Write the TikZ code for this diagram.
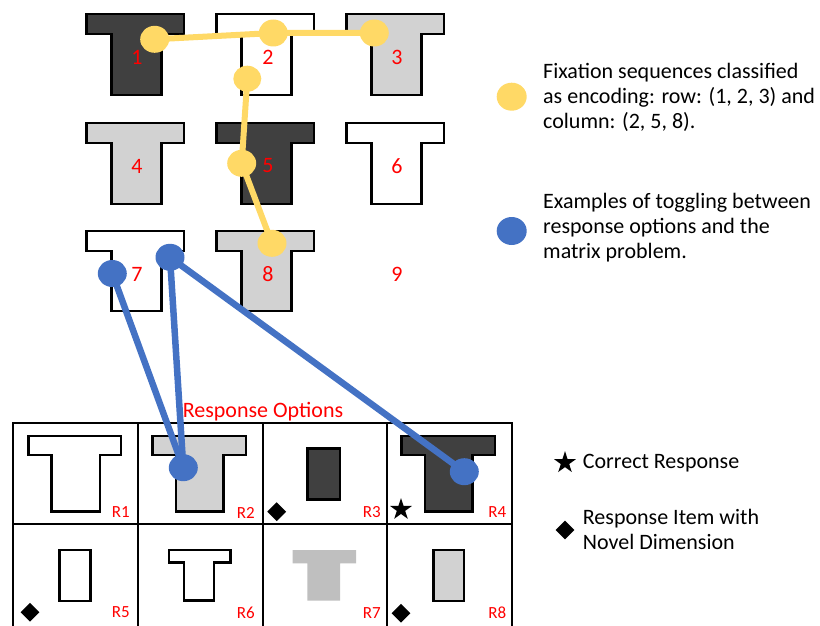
\documentclass[tikz,border=0pt]{standalone}
\usepackage{fontspec}
\setmainfont{Carlito}
\usetikzlibrary{shapes.geometric}

\definecolor{fixyellow}{HTML}{FFD966}
\definecolor{toggleblue}{HTML}{4472C4}
\definecolor{darkfill}{HTML}{404040}
\definecolor{lightfill}{HTML}{D2D2D2}
\definecolor{fadedfill}{HTML}{BFBFBF}
\definecolor{labelred}{HTML}{FF0000}

% T-shaped figure: left x, top y, width, bar height, stem offset, stem width, total height, style
\newcommand\drawtee[8]{%
  \path[#8] (#1,#2) -- ++(#3,0) -- ++(0,#4) -- (#1+#5+#6,#2+#4) -- (#1+#5+#6,#2+#7)
    -- (#1+#5,#2+#7) -- (#1+#5,#2+#4) -- (#1,#2+#4) -- cycle;}

\begin{document}
\begin{tikzpicture}[x=1pt,y=-1pt,
  figline/.style={draw=black,line width=2.6pt,line join=miter},
  cellnum/.style={text=labelred,font=\fontsize{22}{26}\selectfont,inner sep=0pt},
  optlabel/.style={text=labelred,font=\fontsize{17}{20}\selectfont,inner sep=0pt,anchor=east},
  ydot/.style={ellipse,fill=fixyellow,inner sep=0pt,minimum width=29pt,minimum height=27pt},
  bdot/.style={ellipse,fill=toggleblue,inner sep=0pt,minimum width=29pt,minimum height=27pt},
  ylink/.style={draw=fixyellow,line width=6pt},
  blink/.style={draw=toggleblue,line width=6.5pt},
  legendtext/.style={font=\fontsize{22}{25}\selectfont,align=left,anchor=west,inner sep=0pt},
  mark diamond/.style={diamond,fill=black,inner sep=0pt,minimum width=19pt,minimum height=19pt},
  mark star/.style={star,star points=5,star point ratio=2.6,fill=black,inner sep=0pt,minimum size=23pt},
  gridline/.style={draw=black,line width=2pt}]
\useasboundingbox (0,0) rectangle (820,626);

% ---- 3x3 matrix problem ----
\drawtee{86.7}{14}{97.3}{20}{25}{50}{81}{figline,fill=darkfill}
\drawtee{216.7}{14}{97.3}{20}{25}{50}{81}{figline,fill=white}
\drawtee{346.7}{14}{97.3}{20}{25}{50}{81}{figline,fill=lightfill}
\drawtee{86.7}{123}{97.3}{20}{25}{50}{81}{figline,fill=lightfill}
\drawtee{216.7}{123}{97.3}{20}{25}{50}{81}{figline,fill=darkfill}
\drawtee{346.7}{123}{97.3}{20}{25}{50}{81}{figline,fill=white}
\drawtee{86.7}{231}{97.3}{20}{25}{50}{80}{figline,fill=white}
\drawtee{216.7}{231}{97.3}{20}{25}{50}{80}{figline,fill=lightfill}

\node[cellnum] (n1) at (137,57) {1};
\node[cellnum] (n2) at (268,57) {2};
\node[cellnum] (n3) at (397,57) {3};
\node[cellnum] (n4) at (137,166) {4};
\node[cellnum] (n5) at (268,166) {5};
\node[cellnum] (n6) at (397,166) {6};
\node[cellnum] (n7) at (137,274) {7};
\node[cellnum] (n8) at (268,274) {8};
\node[cellnum] (n9) at (397,274) {9};

% ---- response options ----
\node[text=labelred,font=\fontsize{22}{26}\selectfont,inner sep=0pt] (ropt) at (263,411.5) {Response Options};
\draw[gridline] (12.7,423) -- (511.7,423);
\draw[gridline] (12.7,524.3) -- (511.7,524.3);
\draw[gridline] (12.7,626.6) -- (511.7,626.6);
\foreach \gx in {12.7,137.7,262.7,387.3,511.7} \draw[gridline] (\gx,422) -- (\gx,627);

\drawtee{28.3}{436}{92.7}{19}{23.4}{48.3}{75.7}{figline,fill=white}
\drawtee{152.7}{436}{93.3}{19}{23.3}{47.3}{75.7}{figline,fill=lightfill}
\draw[figline,fill=darkfill] (307.3,448.3) rectangle (340,499.3);
\drawtee{401.7}{436}{93.3}{19}{23.3}{47.7}{75.7}{figline,fill=darkfill}

\draw[figline,fill=white] (59.3,550) rectangle (90.7,601);
\drawtee{169}{550}{61.7}{12.3}{15}{30}{50.7}{figline,fill=white}
\drawtee{292.7}{550}{63.3}{13.3}{14.6}{32.7}{50.7}{fill=fadedfill}
\draw[figline,fill=lightfill] (433.3,550) rectangle (464,601);

\node[optlabel] (r1) at (130,512.5) {R1};
\node[optlabel] (r2) at (255,512.5) {R2};
\node[optlabel] (r3) at (381,512.5) {R3};
\node[optlabel] (r4) at (506.5,512.5) {R4};
\node[optlabel] (r5) at (130,612.5) {R5};
\node[optlabel] (r6) at (255,612.5) {R6};
\node[optlabel] (r7) at (381,613.3) {R7};
\node[optlabel] (r8) at (506.5,612.5) {R8};

\node[mark diamond] (d3) at (276.7,511.7) {};
\node[mark star] (s4) at (401,509.5) {};
\node[mark diamond] (d5) at (30,612.3) {};
\node[mark diamond] (d8) at (401,613.3) {};

% ---- encoding fixations (yellow) ----
\node[ydot] (y1) at (154.7,39.3) {};
\node[ydot] (y2) at (273.3,33) {};
\node[ydot] (y3) at (374.3,33) {};
\node[ydot,minimum width=28pt,minimum height=26pt] (y4) at (247.3,78.7) {};
\node[ydot] (y5) at (241.7,163.3) {};
\node[ydot] (y6) at (272,243.3) {};
\draw[ylink] (y1.center) -- (y2.center) -- (y3.center);
\draw[ylink] (y4.center) -- (y5.center) -- (y6.center);

% ---- toggling fixations (blue) ----
\node[bdot] (b1) at (112.3,273.5) {};
\node[bdot] (b2) at (170,257.3) {};
\node[bdot] (b3) at (183.3,467.7) {};
\node[bdot] (b4) at (464.3,471.7) {};
\draw[blink] (b1.center) -- (b3.center);
\draw[blink] (b2.center) -- (b3.center);
\draw[blink] (b2.center) -- (b4.center);

% ---- legend ----
\node[ydot,minimum width=30pt,minimum height=28pt] (ly) at (511.7,96.7) {};
\node[legendtext] (ty) at (543,97) {Fixation sequences classified\\as encoding: row: (1, 2, 3) and\\column: (2, 5, 8).};
\node[bdot,minimum width=30pt,minimum height=28pt] (lb) at (511.7,231) {};
\node[legendtext] (tb) at (543,228) {Examples of toggling between\\response options and the\\matrix problem.};

\node[mark star] (ls) at (565,462.7) {};
\node[legendtext] (ts) at (582.7,462.7) {Correct Response};
\node[mark diamond] (ld) at (565,530) {};
\node[legendtext] (td) at (582.7,529.7) {Response Item with\\Novel Dimension};
\end{tikzpicture}
\end{document}
